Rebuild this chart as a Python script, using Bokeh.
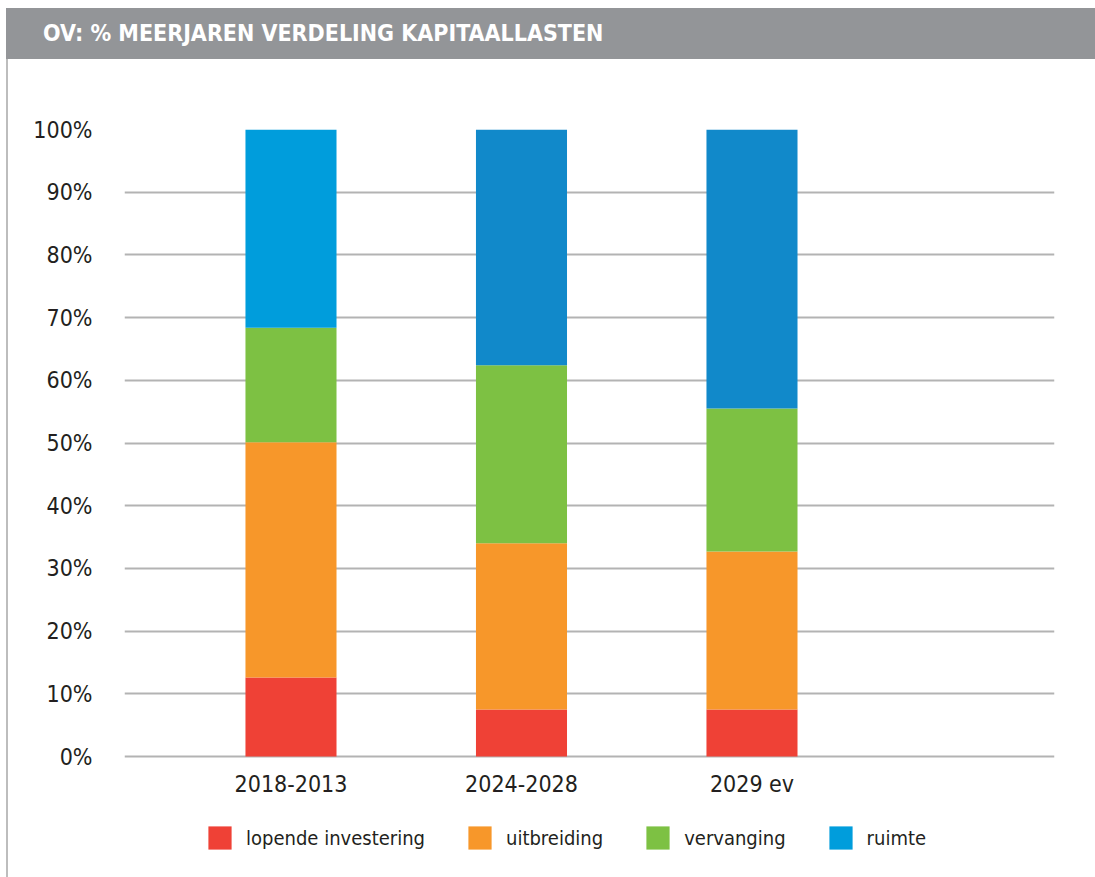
from bokeh.plotting import figure
from bokeh.models import Div, Legend, LegendItem, ColumnDataSource, FixedTicker
from bokeh.layouts import column, row
from bokeh.core.properties import value
from bokeh.embed import file_html
from bokeh.resources import INLINE

# ---- data ----
title_text = "OV: % MEERJAREN VERDELING KAPITAALLASTEN"
categories = ["2018-2013", "2024-2028", "2029 ev"]
series_names = ["lopende investering", "uitbreiding", "vervanging", "ruimte"]
lopende_investering = [12.6, 7.5, 7.5]
uitbreiding = [37.5, 26.5, 25.2]
vervanging = [18.3, 28.4, 22.8]
ruimte = [31.6, 37.6, 44.5]
y_ticks = [0, 10, 20, 30, 40, 50, 60, 70, 80, 90, 100]
y_tick_labels = [f"{t}%" for t in y_ticks]

# ---- styles ----
FONT = "DejaVu Sans Condensed"
TXT = "#231f20"
series_colors = [
    ["#ef4136"] * 3,
    ["#f7972a"] * 3,
    ["#7dc143"] * 3,
    ["#009ddc", "#1189ca", "#1189ca"],
]

header = Div(
    text=f'<div style="font-family:\'{FONT}\',sans-serif;font-weight:bold;font-size:23px;'
         f'color:#ffffff;line-height:51px;padding-left:37px;white-space:nowrap;">{title_text}</div>',
    width=1089, height=51, margin=(8, 0, 0, 6),
    styles={"background-color": "#939598"},
)

border = Div(text="", width=2, height=818, margin=(0, 0, 0, 6),
             styles={"background-color": "#bdbdbd"})

xs = list(range(1, len(categories) + 1))
px_per_unit = 6.27  # vertical scale (pixels per percent)

p = figure(
    width=1087, height=818,
    x_range=(1 - 0.7223, 1 + 3.3124),
    y_range=(-(877 - 756) / px_per_unit, 100),
    output_backend="svg", toolbar_location=None,
    min_border_left=116, min_border_right=41, min_border_top=70, min_border_bottom=0,
    outline_line_color=None, background_fill_color="white", border_fill_color="white",
)

bottom = [0.0] * len(categories)
renderers = []
for name, vals, cols in zip(series_names, [lopende_investering, uitbreiding, vervanging, ruimte], series_colors):
    top = [b + v for b, v in zip(bottom, vals)]
    src = ColumnDataSource(dict(x=xs, bottom=bottom, top=top, color=cols))
    r = p.vbar(x="x", bottom="bottom", top="top", width=0.395, source=src,
               fill_color="color", line_color=None)
    renderers.append((name, r))
    bottom = top

# category labels (x axis)
p.text(x=xs, y=[0] * len(xs), text=categories, y_offset=27,
       text_align="center", text_baseline="middle",
       text_font=value(FONT), text_font_size="23px", text_color=TXT)

p.xaxis.visible = False

p.yaxis.ticker = FixedTicker(ticks=y_ticks)
p.yaxis.major_label_overrides = {t: l for t, l in zip(y_ticks, y_tick_labels)}
p.yaxis.axis_line_color = None
p.yaxis.major_tick_line_color = None
p.yaxis.minor_tick_line_color = None
p.yaxis.major_label_text_font = FONT
p.yaxis.major_label_text_font_size = "23px"
p.yaxis.major_label_text_color = TXT
p.yaxis.major_label_standoff = 26

p.xgrid.grid_line_color = None
p.ygrid.grid_line_color = "#b3b3b3"
p.ygrid.grid_line_width = 2

items = [LegendItem(label=n, renderers=[r], index=0) for n, r in renderers]
legend = Legend(
    items=items, orientation="horizontal", location=(81, 25),
    glyph_width=29, glyph_height=29, label_standoff=12, spacing=40,
    label_text_font=FONT, label_text_font_size="20px", label_text_color=TXT,
    border_line_color=None, background_fill_alpha=0, padding=0, margin=0,
    label_height=29,
)
p.add_layout(legend, "center")

layout = column(header, row(border, p, spacing=0), spacing=0)

open("out.html", "w").write(file_html(layout, INLINE))
